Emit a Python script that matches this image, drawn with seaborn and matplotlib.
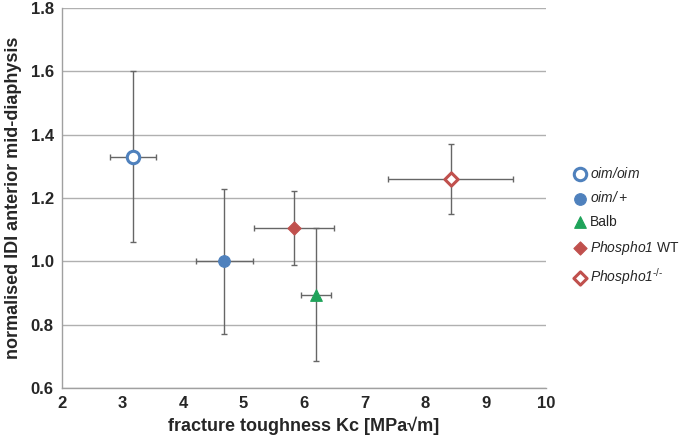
import matplotlib

matplotlib.use("Agg")

import matplotlib.pyplot as plt
import pandas as pd
import seaborn as sns

groups = ["oim/oim", "oim/+", "Balb", "Phospho1 WT", "Phospho1-/-"]
# \mathsf is mapped to italic below so that the "1" stays italic too
labels = [r"$\mathsf{oim/oim}$", r"$\mathsf{oim/+}$", "Balb",
          r"$\mathsf{Phospho1}$ WT", r"$\mathsf{Phospho1}^{\text{-/-}}$"]
kc = [3.18, 4.68, 6.2, 5.83, 8.42]
kc_err = [0.38, 0.47, 0.25, 0.66, 1.04]
idi = [1.33, 1.0, 0.895, 1.105, 1.26]
idi_err = [0.27, 0.23, 0.21, 0.117, 0.11]

colors = ["#4f81bd", "#4f81bd", "#1fa35a", "#c0504d", "#c0504d"]
markers = ["o", "o", "^", "D", "D"]
filled = [False, True, True, True, False]
sizes = [80, 70, 70, 45, 45]

sns.set_theme(style="white")
plt.rcParams["font.family"] = ["Liberation Sans", "DejaVu Sans"]
plt.rcParams["mathtext.fontset"] = "custom"
plt.rcParams["mathtext.sf"] = "Liberation Sans:italic"
plt.rcParams["mathtext.it"] = "Liberation Sans:italic"
plt.rcParams["mathtext.rm"] = "Liberation Sans"

data = pd.DataFrame({"group": groups, "kc": kc, "idi": idi})

fig = plt.figure(figsize=(6.81, 4.45), dpi=100)
ax = fig.add_axes([0.091, 0.128, 0.711, 0.854])

ax.errorbar(kc, idi, xerr=kc_err, yerr=idi_err, fmt="none", ecolor="#666666",
            elinewidth=1, capsize=2.5, capthick=1, zorder=2)

for i, g in enumerate(groups):
    sub = data[data["group"] == g]
    sns.scatterplot(
        data=sub, x="kc", y="idi", ax=ax, marker=markers[i], s=sizes[i],
        color=colors[i] if filled[i] else "white",
        edgecolor=colors[i], linewidth=2.2 if not filled[i] else 0.8,
        label=labels[i], zorder=3,
    )

ax.set_xlim(2, 10)
ax.set_ylim(0.6, 1.8)
ax.set_xticks(range(2, 11))
ax.set_yticks([0.6, 0.8, 1.0, 1.2, 1.4, 1.6, 1.8])
ax.set_yticklabels([f"{v:.1f}" for v in [0.6, 0.8, 1.0, 1.2, 1.4, 1.6, 1.8]])
ax.yaxis.grid(True, color="#b0b0b0", linewidth=1)
ax.xaxis.grid(False)
for side in ["top", "right"]:
    ax.spines[side].set_visible(False)
for side in ["left", "bottom"]:
    ax.spines[side].set_color("#a0a0a0")
    ax.spines[side].set_linewidth(1)

ax.tick_params(axis="both", labelsize=12, length=0, pad=6)
for t in ax.get_xticklabels() + ax.get_yticklabels():
    t.set_fontweight("bold")
ax.set_xlabel("fracture toughness Kc [MPa\u221am]", fontsize=13, fontweight="bold", labelpad=4)
ax.set_ylabel("normalised IDI anterior mid-diaphysis", fontsize=13, fontweight="bold", labelpad=6)

ax.legend(loc="center left", bbox_to_anchor=(1.045, 0.425), frameon=False, fontsize=10,
          handletextpad=0.2, labelspacing=0.7, handlelength=1.0, borderaxespad=0)

fig.savefig("out.png", dpi=100)
plt.close(fig)
